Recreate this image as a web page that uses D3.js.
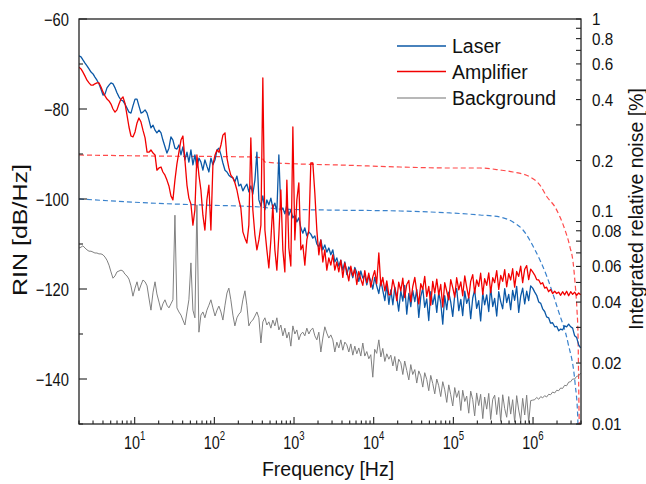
<!DOCTYPE html>
<html><head><meta charset="utf-8">
<script src="https://cdn.jsdelivr.net/npm/d3@7"></script>
<style>
html,body{margin:0;padding:0;background:#fff;}
svg{display:block;font-family:"Liberation Sans",Arial,Helvetica,sans-serif;}
</style>
</head><body>
<svg id="chart" width="646" height="484"></svg>
<script>
// ---------------- DATA ----------------
// frequency grid [Hz]
const frequency = [
 2,2.12,2.24,2.38,2.52,2.67,2.83,3,3.17,3.36,3.56,3.78,
 4,4.24,4.49,4.76,5.04,5.34,5.66,5.99,6.35,6.73,7.13,7.55,
 8,8.48,8.98,9.51,10.1,10.7,11.3,12,12.7,13.5,14.3,15.1,
 16,17,18,19,20.2,21.4,22.6,24,25.4,26.9,28.5,30.2,
 32,33.9,35.9,38.1,40.3,42.7,45.3,47.9,50.8,53.8,57,60.4,
 64,67.8,71.8,76.1,80.6,85.4,90.5,95.9,102,108,114,121,
 128,136,144,152,161,171,181,192,203,215,228,242,
 256,271,287,304,323,342,362,384,406,431,456,483,
 512,542,575,609,645,683,724,767,813,861,912,967,
 1024,1085,1149,1218,1290,1367,1448,1534,1625,1722,1825,1933,
 2048,2170,2299,2435,2580,2734,2896,3069,3251,3444,3649,3866,
 4096,4340,4598,4871,5161,5468,5793,6137,6502,6889,7298,7732,
 8192,8679,9195,9742,1.03e4,1.09e4,1.16e4,1.23e4,1.3e4,1.38e4,1.46e4,1.55e4,
 1.64e4,1.74e4,1.84e4,1.95e4,2.06e4,2.19e4,2.32e4,2.45e4,2.6e4,2.76e4,2.92e4,3.09e4,
 3.28e4,3.47e4,3.68e4,3.9e4,4.13e4,4.37e4,4.63e4,4.91e4,5.2e4,5.51e4,5.84e4,6.19e4,
 6.55e4,6.94e4,7.36e4,7.79e4,8.26e4,8.75e4,9.27e4,9.82e4,1.04e5,1.1e5,1.17e5,1.24e5,
 1.31e5,1.39e5,1.47e5,1.56e5,1.65e5,1.75e5,1.85e5,1.96e5,2.08e5,2.2e5,2.34e5,2.47e5,
 2.62e5,2.78e5,2.94e5,3.12e5,3.3e5,3.5e5,3.71e5,3.93e5,4.16e5,4.41e5,4.67e5,4.95e5,
 5.24e5,5.55e5,5.88e5,6.23e5,6.61e5,7e5,7.41e5,7.86e5,8.32e5,8.82e5,9.34e5,9.9e5,
 1.05e6,1.11e6,1.18e6,1.25e6,1.32e6,1.4e6,1.48e6,1.57e6,1.66e6,1.76e6,1.87e6,1.98e6,
 2.1e6,2.22e6,2.35e6,2.49e6,2.64e6,2.8e6,2.97e6,3.14e6,3.33e6,3.53e6,3.74e6,3.96e6
];
// RIN [dB/Hz]
const laser = [
 -68.2,-68.4,-69.1,-69.8,-70.4,-71.1,-71.8,-72.2,-72.9,-73.6,-74.4,-75.6,
 -76.9,-76.7,-75.3,-74.7,-74.2,-74.4,-75.3,-76.4,-77.3,-78.0,-78.2,-78.9,
 -79.8,-80.7,-80.9,-79.3,-77.8,-77.8,-79.3,-80.9,-80.7,-80.2,-80.9,-82.4,
 -84.2,-83.6,-84.7,-85.3,-84.7,-85.3,-86.9,-88.4,-89.8,-88.7,-86.2,-86.9,
 -88.7,-88.9,-88.0,-90.2,-88.4,-91.3,-89.6,-91.8,-89.1,-92.4,-90.2,-93.1,
 -90.9,-91.8,-93.6,-91.3,-92.7,-94.0,-90.9,-92.4,-91.3,-89.1,-88.7,-90.2,
 -92.0,-93.6,-94.0,-94.7,-95.1,-95.3,-96.2,-94.9,-97.1,-96.7,-98.2,-97.3,
 -96.7,-98.4,-97.1,-98.9,-95.8,-89.6,-100.2,-101.6,-99.3,-102.4,-100.2,-101.3,
 -99.8,-102.0,-100.9,-102.9,-90.2,-102.4,-102.0,-103.3,-101.3,-103.6,-102.4,-104.2,
 -103.6,-105.1,-104.2,-106.4,-107.6,-106.4,-108.2,-107.3,-107.8,-108.7,-108.2,-110.0,
 -110.7,-109.1,-111.3,-110.2,-111.8,-110.9,-112.4,-111.3,-114.0,-113.1,-114.9,-113.6,
 -115.8,-114.0,-116.8,-115.1,-116.0,-117.5,-115.2,-116.4,-118.3,-116.0,-117.6,-116.9,
 -119.1,-117.0,-118.2,-120.0,-117.4,-119.3,-121.0,-118.1,-120.3,-122.6,-119.1,-123.4,
 -120.2,-123.5,-119.6,-121.8,-124.9,-120.4,-122.7,-119.2,-125.6,-121.0,-123.9,-120.3,
 -122.8,-120.1,-126.3,-121.7,-119.8,-124.1,-122.2,-127.0,-120.6,-123.4,-121.2,-125.2,
 -120.8,-123.0,-127.8,-121.5,-124.6,-120.7,-122.9,-126.1,-121.4,-119.9,-124.8,-122.3,
 -125.9,-120.5,-123.2,-121.8,-126.6,-122.0,-120.2,-124.3,-122.6,-127.1,-120.9,-123.5,
 -121.3,-125.0,-119.7,-123.9,-122.1,-126.0,-120.6,-122.8,-124.4,-119.9,-123.0,-121.2,
 -124.6,-120.3,-122.5,-119.4,-125.2,-121.6,-119.8,-123.3,-120.5,-122.6,-119.3,-119.8,
 -120.7,-121.4,-122.9,-123.2,-124.4,-125.0,-126.2,-126.4,-127.6,-127.5,-128.4,-128.3,
 -129.3,-128.9,-129.1,-128.2,-128.4,-127.8,-128.4,-128.7,-130.4,-130.8,-132.4,-133.1
];
const amplifier = [
 -70.7,-71.1,-71.8,-72.7,-73.6,-74.2,-74.7,-74.7,-74.4,-74.2,-74.2,-75.1,
 -76.2,-77.1,-77.8,-78.2,-78.9,-80.0,-80.7,-80.2,-78.9,-77.8,-77.3,-78.7,
 -81.3,-84.0,-86.0,-86.2,-85.1,-83.1,-82.0,-82.9,-84.7,-86.4,-89.6,-89.6,
 -89.1,-89.8,-90.2,-93.6,-93.1,-92.9,-94.0,-94.7,-95.8,-97.1,-99.3,-100.2,
 -95.8,-92.2,-89.6,-86.9,-86.0,-91.3,-96.9,-99.8,-101.1,-105.8,-102.4,-90.2,
 -94.7,-98.0,-103.6,-106.9,-100.2,-96.9,-106.9,-92.4,-90.2,-89.1,-89.6,-88.0,
 -85.8,-85.3,-90.9,-93.1,-94.7,-95.3,-96.4,-98.0,-100.2,-102.0,-107.3,-108.7,
 -109.8,-105.8,-86.4,-102.4,-108.0,-111.3,-109.1,-105.8,-73.1,-106.9,-111.3,-115.3,
 -109.1,-101.3,-111.3,-115.8,-108.0,-98.0,-111.3,-116.2,-95.8,-110.9,-114.9,-84.0,
 -109.1,-100.2,-96.4,-111.3,-110.2,-114.7,-109.1,-106.9,-92.0,-92.0,-98.7,-106.9,
 -112.4,-109.1,-114.0,-111.3,-115.8,-113.1,-114.7,-112.4,-115.8,-114.0,-116.2,-113.6,
 -117.4,-114.2,-116.0,-118.2,-114.9,-117.1,-115.6,-119.0,-116.1,-117.8,-119.2,-115.9,
 -118.6,-116.5,-119.6,-117.3,-115.9,-118.8,-112.0,-119.3,-117.4,-120.4,-118.2,-121.3,
 -121.2,-117.9,-119.8,-122.6,-118.5,-120.4,-117.6,-121.9,-119.0,-118.1,-122.8,-119.5,
 -117.4,-120.6,-123.3,-118.8,-120.1,-117.2,-121.7,-119.4,-123.6,-118.3,-120.9,-117.8,
 -121.3,-119.0,-124.0,-118.6,-120.5,-122.4,-117.9,-119.7,-121.8,-117.5,-120.2,-118.4,
 -121.5,-117.1,-119.6,-122.0,-118.3,-116.8,-120.9,-118.0,-119.4,-116.5,-121.2,-117.7,
 -119.2,-116.4,-120.8,-117.5,-118.6,-115.9,-120.1,-117.0,-118.3,-115.7,-119.5,-116.6,
 -118.0,-115.5,-119.6,-116.1,-117.2,-114.9,-118.6,-115.6,-114.8,-117.9,-115.6,-116.2,
 -116.9,-117.9,-118.0,-118.9,-118.6,-119.8,-119.6,-120.6,-120.1,-121.0,-120.5,-121.0,
 -120.7,-121.4,-120.6,-121.3,-120.5,-121.5,-120.6,-121.2,-120.7,-121.4,-120.9,-121.3
];
const background = [
 -110.9,-110.7,-110.4,-110.9,-111.3,-111.6,-111.6,-111.8,-112.0,-112.0,-112.2,-112.2,
 -112.4,-112.9,-113.6,-114.7,-116.2,-117.6,-117.1,-116.2,-116.0,-115.8,-116.0,-116.7,
 -117.1,-117.8,-119.3,-121.6,-119.8,-118.4,-120.4,-119.1,-118.0,-118.4,-119.3,-122.0,
 -124.7,-120.7,-118.4,-121.1,-122.9,-124.7,-123.3,-122.4,-123.6,-124.2,-123.3,-122.4,
 -103.6,-124.2,-125.1,-125.8,-126.9,-128.0,-125.1,-122.4,-114.2,-124.7,-126.4,-101.3,
 -129.6,-125.8,-125.1,-126.4,-124.7,-123.6,-122.4,-124.2,-126.0,-124.7,-123.8,-125.1,
 -126.9,-123.6,-120.9,-119.8,-122.4,-125.8,-128.2,-126.4,-125.6,-125.1,-122.4,-120.4,
 -123.6,-128.2,-127.3,-126.9,-126.0,-125.1,-126.4,-132.0,-127.3,-126.4,-128.0,-127.3,
 -128.7,-126.9,-128.2,-126.4,-129.1,-128.0,-130.4,-128.7,-130.9,-129.6,-132.7,-128.2,
 -130.0,-129.1,-131.3,-130.0,-129.6,-130.4,-128.7,-130.0,-129.1,-128.7,-130.4,-131.3,
 -129.6,-134.0,-130.9,-128.4,-129.8,-130.9,-130.2,-131.3,-134.0,-131.8,-133.1,-131.3,
 -133.6,-131.8,-132.4,-134.0,-132.2,-134.7,-132.7,-134.4,-133.1,-134.9,-132.0,-134.9,
 -133.9,-135.5,-134.6,-139.6,-133.4,-134.3,-131.3,-135.1,-133.2,-136.1,-134.4,-135.6,
 -134.7,-137.1,-135.0,-138.2,-135.6,-136.4,-139.0,-136.0,-138.1,-140.2,-136.8,-139.0,
 -137.9,-140.9,-138.2,-139.3,-141.8,-138.6,-140.1,-142.6,-139.2,-141.0,-143.3,-140.0,
 -141.5,-143.9,-140.6,-142.4,-145.2,-141.3,-143.5,-146.0,-141.9,-144.1,-142.6,-147.0,
 -142.5,-145.0,-143.8,-147.6,-142.7,-144.6,-148.2,-143.1,-145.9,-143.4,-148.8,-144.0,
 -146.7,-143.2,-149.0,-144.5,-143.6,-147.9,-144.1,-149.4,-143.5,-146.6,-148.5,-143.9,
 -147.8,-144.6,-149.6,-143.7,-146.9,-149.2,-144.3,-148.0,-143.6,-149.7,-144.8,-144.7,
 -144.6,-144.1,-144.5,-143.9,-144.2,-143.7,-144.0,-143.4,-143.5,-142.9,-143.1,-142.5,
 -142.6,-142.0,-142.1,-141.4,-141.5,-140.7,-140.6,-140.0,-140.0,-139.4,-139.3,-138.7
];
// integrated relative noise [%] (right axis)
const amplifierIntFreq = [2,15.6,280,396,432,1190,3780,2.14e4,9.08e4,2.16e5,3.85e5,5.6e5,9.16e5,1.22e6,1.5e6,1.89e6,2.18e6,2.52e6,2.91e6,3.18e6,3.37e6,3.56e6,3.67e6,3.74e6,3.8e6,3.85e6];
const amplifierIntPct  = [0.213,0.2106,0.2083,0.2059,0.1967,0.1923,0.1901,0.1858,0.1837,0.1837,0.1796,0.1756,0.1659,0.1514,0.1321,0.1179,0.1052,0.0908,0.0748,0.0631,0.0497,0.0366,0.0275,0.0159,0.01,0.008];
const laserIntFreq = [2,15.6,66,374,667,2830,2.14e4,9.08e4,2.16e5,3.85e5,5.6e5,7.48e5,1.06e6,1.5e6,2.06e6,2.75e6,3.37e6,3.64e6,3.7e6];
const laserIntPct  = [0.1292,0.1234,0.1207,0.1179,0.1152,0.1139,0.1127,0.1102,0.1077,0.1052,0.0994,0.0908,0.0723,0.0532,0.0366,0.0251,0.0159,0.0108,0.008];

// ticks / labels
const leftTickLabels = [-60,-80,-100,-120,-140];
const rightTickLabels = [1,0.8,0.6,0.4,0.2,0.1,0.08,0.06,0.04,0.02,0.01];
const xTickExponents = [1,2,3,4,5,6];
const seriesNames = ["Laser","Amplifier","Background"];
const xTitle = "Frequency [Hz]";
const yTitle = "RIN [dB/Hz]";
const y2Title = "Integrated relative noise [%]";

// ---------------- DRAW ----------------
const M = {left:79, right:581, top:19, bottom:424};
const COL = {laser:"#0b58a6", amp:"#f20000", bg:"#808080", laserDash:"#3a82cc", ampDash:"#ff4a4a", axis:"#222", text:"#111"};
const svg = d3.select("#chart");
const x = d3.scaleLog().domain([2,4e6]).range([M.left,M.right]);
const y = d3.scaleLinear().domain([-150,-60]).range([M.bottom,M.top]);
const yR = d3.scaleLog().domain([0.01,1]).range([M.bottom,M.top]);

svg.append("defs").append("clipPath").attr("id","clip").append("rect")
  .attr("x",M.left).attr("y",M.top).attr("width",M.right-M.left).attr("height",M.bottom-M.top);
const plot = svg.append("g").attr("clip-path","url(#clip)");

const dashLine = d3.line().x(d=>x(d[0])).y(d=>yR(d[1])).curve(d3.curveMonotoneX);
plot.append("path").attr("d",dashLine(d3.zip(amplifierIntFreq,amplifierIntPct)))
  .attr("fill","none").attr("stroke",COL.ampDash).attr("stroke-width",1.2).attr("stroke-dasharray","5,3");
plot.append("path").attr("d",dashLine(d3.zip(laserIntFreq,laserIntPct)))
  .attr("fill","none").attr("stroke",COL.laserDash).attr("stroke-width",1.2).attr("stroke-dasharray","5,3");

const dbLine = d3.line().x(d=>x(d[0])).y(d=>y(d[1]));
[[background,COL.bg,1.0],[laser,COL.laser,1.3],[amplifier,COL.amp,1.3]].forEach(([vals,c,w])=>{
  plot.append("path").attr("d",dbLine(d3.zip(frequency,vals)))
    .attr("fill","none").attr("stroke",c).attr("stroke-width",w).attr("stroke-linejoin","round");
});

// frame
svg.append("rect").attr("x",M.left).attr("y",M.top).attr("width",M.right-M.left).attr("height",M.bottom-M.top)
  .attr("fill","none").attr("stroke",COL.axis).attr("stroke-width",1.3);

// bottom ticks
x.ticks().filter(v=>v>=2 && v<=4e6).forEach(v=>{
  const major = Math.abs(Math.log10(v)-Math.round(Math.log10(v)))<1e-9;
  svg.append("line").attr("x1",x(v)).attr("x2",x(v)).attr("y1",M.bottom).attr("y2",M.bottom-(major?7:3.5))
    .attr("stroke",COL.axis).attr("stroke-width",1.1);
});
// left ticks
y.ticks(10).forEach(v=>{
  const major = leftTickLabels.includes(v);
  svg.append("line").attr("x1",M.left).attr("x2",M.left+(major?8:4)).attr("y1",y(v)).attr("y2",y(v))
    .attr("stroke",COL.axis).attr("stroke-width",1.1);
});
// right ticks
yR.ticks().forEach(v=>{
  svg.append("line").attr("x1",M.right).attr("x2",M.right-5).attr("y1",yR(v)).attr("y2",yR(v))
    .attr("stroke",COL.axis).attr("stroke-width",1.1);
});

// tick labels
const tl = svg.append("g").attr("fill",COL.text).attr("font-size",18);
leftTickLabels.forEach(v=>{
  tl.append("text").attr("transform",`translate(${M.left-10},${y(v)+6.5}) scale(0.82,1)`)
    .attr("text-anchor","end").text("\u2212"+Math.abs(v));
});
const rightNudge = {0.1:-10.5, 0.08:-10};
rightTickLabels.forEach(v=>{
  tl.append("text").attr("transform",`translate(${M.right+11},${yR(v)+6+(rightNudge[v]||0)}) scale(0.92,1)`)
    .attr("font-size",16.5).attr("text-anchor","start").text(String(v));
});
xTickExponents.forEach(e=>{
  const t = tl.append("text").attr("transform",`translate(${x(Math.pow(10,e))},449) scale(0.8,1)`)
    .attr("text-anchor","middle");
  t.append("tspan").text("10");
  t.append("tspan").attr("font-size",12).attr("dy",-9).text(String(e));
});

// titles
svg.append("text").attr("x",328).attr("y",476).attr("text-anchor","middle")
  .attr("font-size",19.5).attr("fill",COL.text).text(xTitle);
svg.append("text").attr("transform","translate(27,230) rotate(-90) scale(1.22,1)").attr("text-anchor","middle")
  .attr("font-size",20.5).attr("fill",COL.text).text(yTitle);
svg.append("text").attr("transform","translate(643,209) rotate(-90)").attr("text-anchor","middle")
  .attr("font-size",19.5).attr("fill",COL.text).text(y2Title);

// legend
const legCols = [COL.laser, COL.amp, "#a0a0a0"];
const legY = [46, 71.5, 98];
seriesNames.forEach((n,i)=>{
  svg.append("line").attr("x1",397).attr("x2",446).attr("y1",legY[i]).attr("y2",legY[i])
    .attr("stroke",legCols[i]).attr("stroke-width",1.4);
  svg.append("text").attr("x",452).attr("y",legY[i]+7).attr("font-size",19.5).attr("fill",COL.text).text(n);
});
</script>
</body></html>
